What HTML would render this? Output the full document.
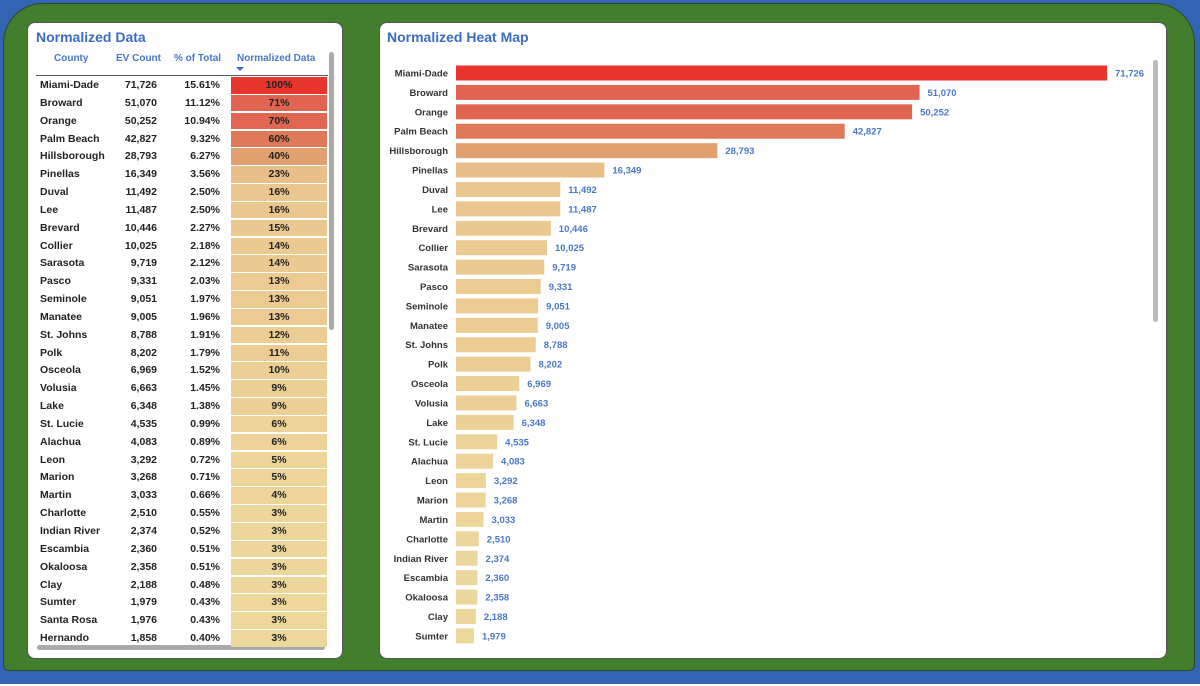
<!DOCTYPE html>
<html><head><meta charset="utf-8"><style>
body{margin:0;width:1200px;height:686px;overflow:hidden;background:#fff;font-family:"Liberation Sans",sans-serif;}
#bg{position:absolute;left:0;top:0;width:1200px;height:684px;background:#3464b4;}
#green{position:absolute;left:3px;top:3px;width:1192px;height:668px;background:#437d2e;border-radius:40px 40px 6px 6px;border:1px solid #2c4a20;box-sizing:border-box;}
.card{position:absolute;background:#fff;border-radius:8px;border:1px solid #555;box-sizing:border-box;}
.title{position:absolute;color:#3a6cc0;font-weight:bold;font-size:14px;}
.hdr{position:absolute;top:53px;color:#4a78c8;font-weight:bold;font-size:10px;}
.cell{position:absolute;font-size:10.5px;font-weight:bold;color:#222;}
</style></head><body>
<div id="bg"></div>
<div id="green"></div>
<div class="card" style="left:27px;top:22px;width:316px;height:637px">
 <div class="title" style="left:8px;top:6px">Normalized Data</div>
</div>
<div class="card" style="left:379px;top:22px;width:788px;height:637px">
 <div class="title" style="left:7px;top:6px">Normalized Heat Map</div>
</div>
<div class="hdr" style="left:54px">County</div>
<div class="hdr" style="left:116px">EV Count</div>
<div class="hdr" style="left:174px">% of Total</div>
<div class="hdr" style="left:237px">Normalized Data</div>
<div style="position:absolute;left:236px;top:67px;width:0;height:0;border-left:4px solid transparent;border-right:4px solid transparent;border-top:4px solid #3a6cc0"></div>
<div style="position:absolute;left:36px;top:75px;width:292px;height:1px;background:#555"></div>
<div style="position:absolute;left:329px;top:52px;width:5px;height:278px;background:#aaa;border-radius:3px"></div>
<div style="position:absolute;left:37px;top:645px;width:288px;height:5px;background:#aaa;border-radius:3px"></div>
<div style="position:absolute;left:1153px;top:60px;width:5px;height:262px;background:#bbb;border-radius:3px"></div>
<div id="table"></div>
<svg id="chart" width="1200" height="686" style="position:absolute;left:0;top:0"></svg>
<script>
const counties=["Miami-Dade","Broward","Orange","Palm Beach","Hillsborough","Pinellas","Duval","Lee","Brevard","Collier","Sarasota","Pasco","Seminole","Manatee","St. Johns","Polk","Osceola","Volusia","Lake","St. Lucie","Alachua","Leon","Marion","Martin","Charlotte","Indian River","Escambia","Okaloosa","Clay","Sumter","Santa Rosa","Hernando"];
const evCounts=[71726,51070,50252,42827,28793,16349,11492,11487,10446,10025,9719,9331,9051,9005,8788,8202,6969,6663,6348,4535,4083,3292,3268,3033,2510,2374,2360,2358,2188,1979,1976,1858];
const pctTotal=["15.61%","11.12%","10.94%","9.32%","6.27%","3.56%","2.50%","2.50%","2.27%","2.18%","2.12%","2.03%","1.97%","1.96%","1.91%","1.79%","1.52%","1.45%","1.38%","0.99%","0.89%","0.72%","0.71%","0.66%","0.55%","0.52%","0.51%","0.51%","0.48%","0.43%","0.43%","0.40%"];
const normLabels=["100%","71%","70%","60%","40%","23%","16%","16%","15%","14%","14%","13%","13%","13%","12%","11%","10%","9%","9%","6%","6%","5%","5%","4%","3%","3%","3%","3%","3%","3%","3%","3%"];
const chartRows=30;
const maxV=Math.max(...evCounts);
function color(t){
 const s=[[0,[238,218,158]],[0.23,[232,191,136]],[0.4,[224,160,112]],[0.6,[224,120,88]],[0.71,[224,100,80]],[1,[232,53,45]]];
 for(let i=1;i<s.length;i++){if(t<=s[i][0]){const a=s[i-1],b=s[i];const f=(t-a[0])/(b[0]-a[0]);return 'rgb('+a[1].map((v,k)=>Math.round(v+(b[1][k]-v)*f)).join(',')+')';}}
 return 'rgb(232,53,45)';
}
const fmt=v=>v.toLocaleString('en-US');
// table
const tb=document.getElementById('table');
const rowY=i=>77+i*17.84;
counties.forEach((c,i)=>{
 const y=rowY(i);
 const t=evCounts[i]/maxV;
 const bg=document.createElement('div');
 bg.style.cssText=`position:absolute;left:231px;top:${y}px;width:96px;height:16.5px;background:${color(t)}`;
 
 
 tb.appendChild(bg);
 const mk=(txt,css,name)=>{const d=document.createElement('div');d.className='cell';d.textContent=txt;d.style.cssText=css+`top:${y+2}px;`;
  
  
  tb.appendChild(d);};
 mk(c,'left:40px;','county-cell');
 mk(fmt(evCounts[i]),'left:110px;width:47px;text-align:right;','ev-count-cell');
 mk(pctTotal[i],'left:170px;width:50px;text-align:right;','pct-cell');
 mk(normLabels[i],'left:231px;width:96px;text-align:center;','normalized-label');
});
// chart
const svg=document.getElementById('chart');
const NS='http://www.w3.org/2000/svg';
const x0=456,xScale=v=>v/maxV*651;
const yC=i=>73+i*19.41;
for(let i=0;i<chartRows;i++){
 const r=document.createElementNS(NS,'rect');
 r.setAttribute('x',x0);r.setAttribute('y',yC(i)-7.5);r.setAttribute('width',xScale(evCounts[i]));r.setAttribute('height',15);
 r.setAttribute('fill',color(evCounts[i]/maxV));
 
 
 svg.appendChild(r);
 const l=document.createElementNS(NS,'text');
 l.setAttribute('x',448);l.setAttribute('y',yC(i)+3.5);l.setAttribute('text-anchor','end');
 l.setAttribute('font-size','9.5');l.setAttribute('font-weight','bold');l.setAttribute('fill','#333');l.setAttribute('font-family','Liberation Sans, sans-serif');
 l.textContent=counties[i];
 
 
 svg.appendChild(l);
 const v=document.createElementNS(NS,'text');
 v.setAttribute('x',x0+xScale(evCounts[i])+8);v.setAttribute('y',yC(i)+3.5);
 v.setAttribute('font-size','9.5');v.setAttribute('font-weight','bold');v.setAttribute('fill','#4a78c8');v.setAttribute('font-family','Liberation Sans, sans-serif');
 v.textContent=fmt(evCounts[i]);
 
 
 svg.appendChild(v);
}
</script>
</body></html>
